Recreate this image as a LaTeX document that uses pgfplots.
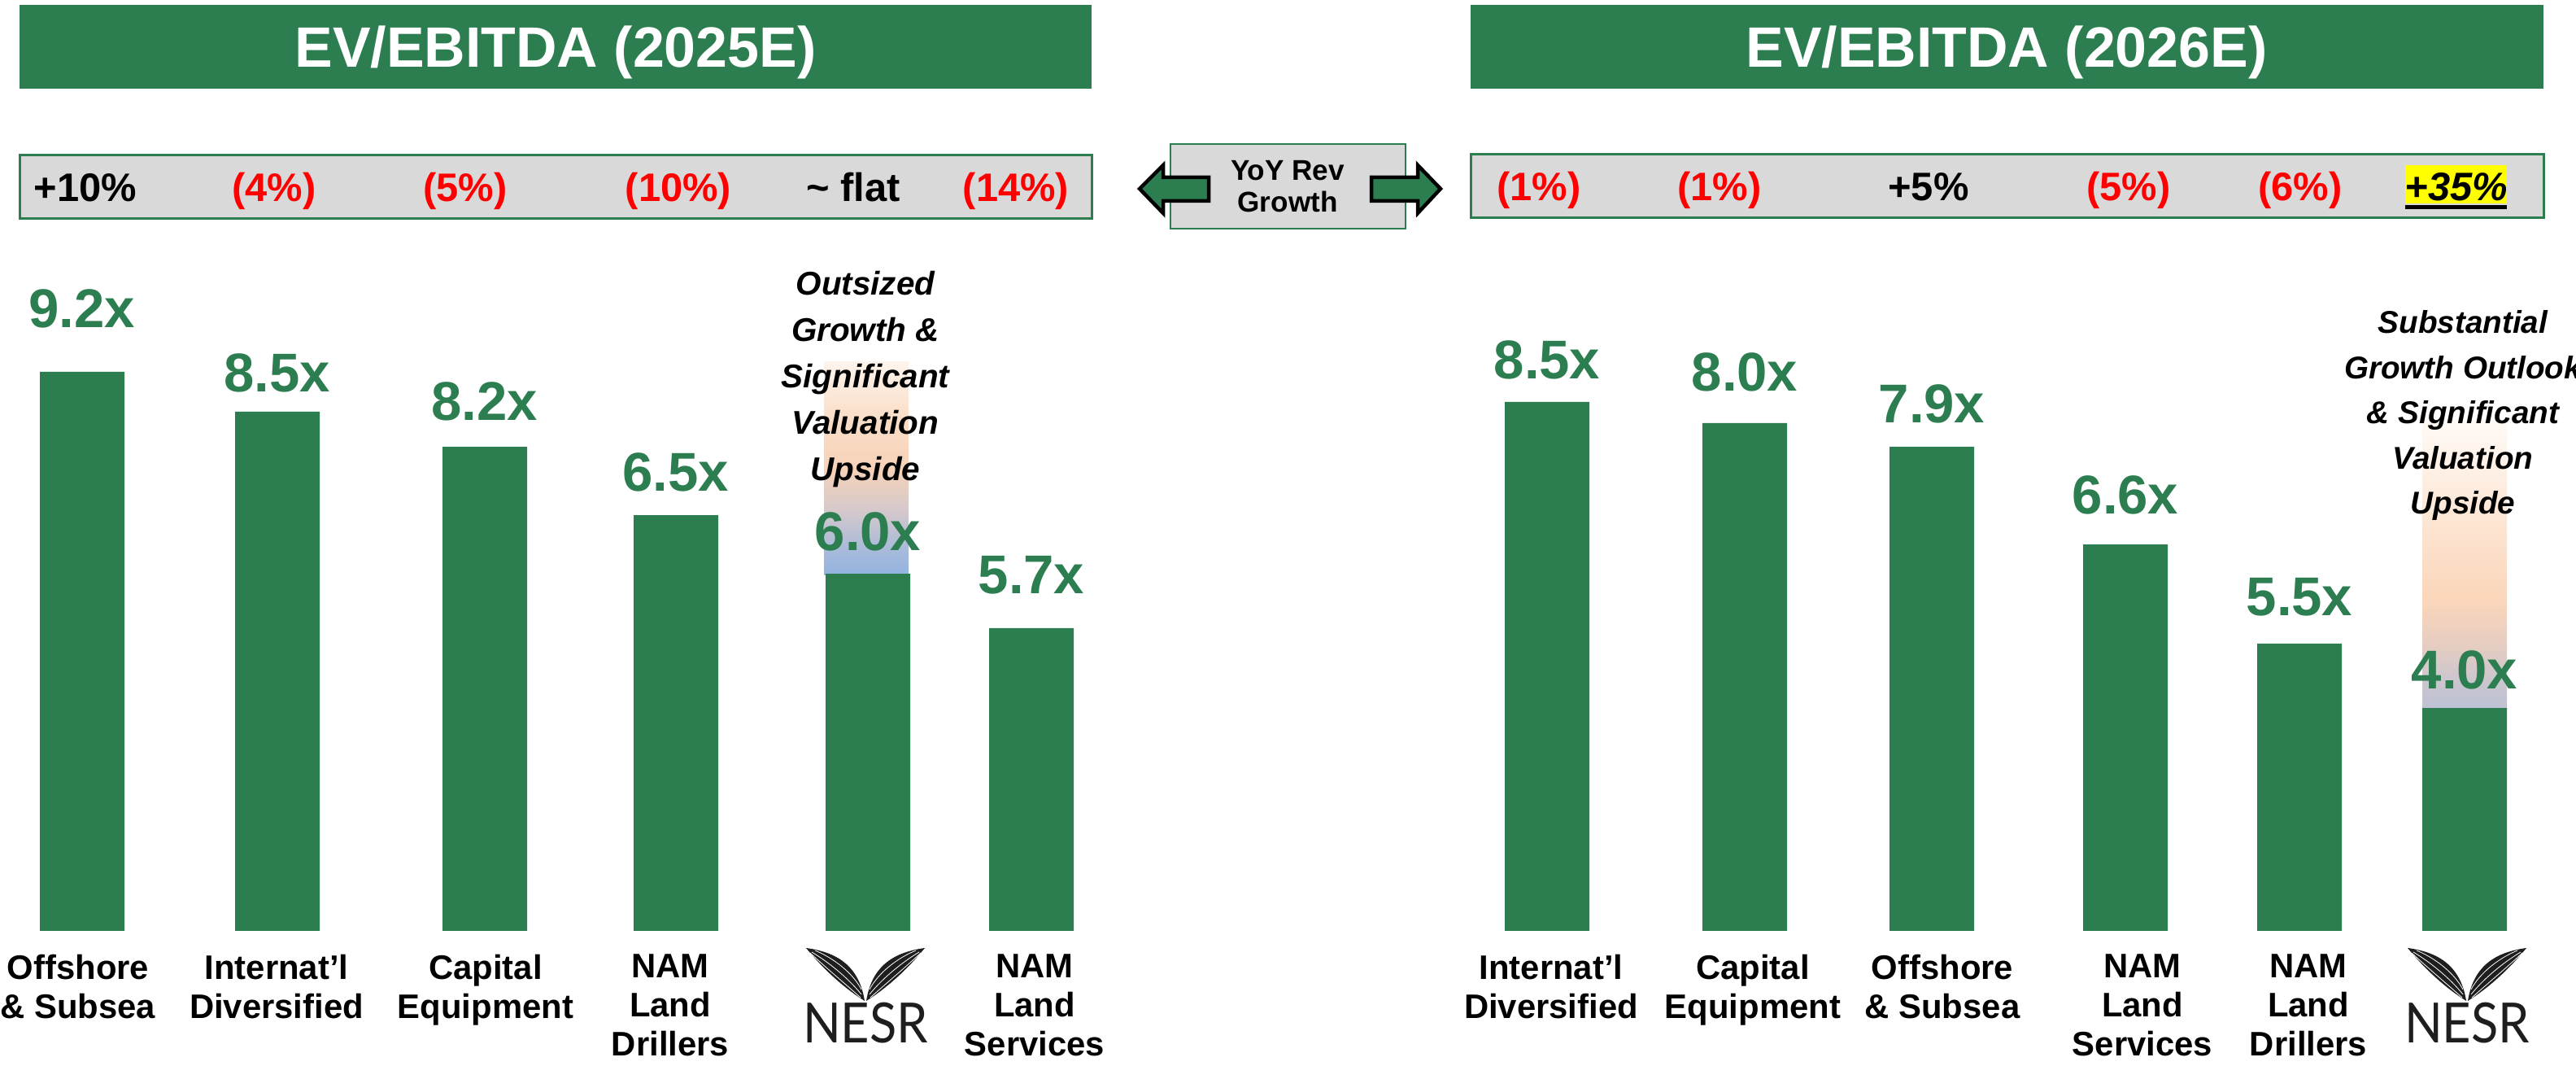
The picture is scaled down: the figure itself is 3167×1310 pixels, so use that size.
\documentclass[border=0pt]{standalone}
\usepackage{pgfplots}
\pgfplotsset{compat=1.18}
\usepackage{pgfplotstable}
\usepackage{fontspec}
\setmainfont{Liberation Sans}
\newfontfamily\logofont{Lato}
\definecolor{evgreen}{RGB}{44,126,80}
\definecolor{boxgrey}{RGB}{217,217,217}
\definecolor{upred}{RGB}{255,0,0}
\definecolor{logogrey}{RGB}{30,30,30}
\definecolor{hiyellow}{RGB}{255,255,0}

% TikZ maps the band 25bp..75bp of a vertical shading onto the shaded path
\pgfdeclareverticalshading{upleft}{100bp}{%
  color(0bp)=(rgb,255:red,146;green,180;blue,226);
  color(25bp)=(rgb,255:red,146;green,180;blue,226);
  color(31bp)=(rgb,255:red,168;green,186;blue,218);
  color(40bp)=(rgb,255:red,212;green,200;blue,204);
  color(50bp)=(rgb,255:red,246;green,210;blue,184);
  color(62bp)=(rgb,255:red,250;green,222;blue,200);
  color(75bp)=(rgb,255:red,254;green,244;blue,236);
  color(100bp)=(rgb,255:red,254;green,244;blue,236)}
\pgfdeclareverticalshading{upright}{100bp}{%
  color(0bp)=(rgb,255:red,188;green,193;blue,212);
  color(25bp)=(rgb,255:red,188;green,193;blue,212);
  color(30bp)=(rgb,255:red,204;green,198;blue,206);
  color(36bp)=(rgb,255:red,230;green,205;blue,193);
  color(44bp)=(rgb,255:red,251;green,214;blue,186);
  color(58bp)=(rgb,255:red,252;green,230;blue,212);
  color(75bp)=(rgb,255:red,255;green,250;blue,246);
  color(100bp)=(rgb,255:red,255;green,250;blue,246)}

\newcommand\hdrfont{\fontsize{19.9}{24}\selectfont\bfseries}
\newcommand\grfont{\fontsize{13.9}{16}\selectfont\bfseries}
\newcommand\barfont{\fontsize{19.1}{22}\selectfont\bfseries}
\newcommand\catfont{\fontsize{11.9}{13.7}\selectfont\bfseries}
\newcommand\notefont{\fontsize{11.5}{16.2}\selectfont\bfseries\itshape}
\newcommand\notefontb{\fontsize{11.0}{15.8}\selectfont\bfseries\itshape}
\newcommand\midfont{\fontsize{10}{11.1}\selectfont\bfseries}

% x = bar centre (px of the slide), h = drawn bar height, ly = label baseline, lab = label
\pgfplotstableread{
x    h     ly    lab
101  9.160 9.893 9.2x
341  8.507 8.827 8.5x
596  7.933 8.360 8.2x
831  6.813 7.213 6.5x
1067 5.853 6.227 6.0x
1268 4.960 5.520 5.7x
}\lefttab
\pgfplotstableread{
x    h     ly    lab
1902 8.667 9.053 8.5x
2145 8.320 8.840 8.0x
2375 7.933 8.320 7.9x
2613 6.333 6.827 6.6x
2827 4.707 5.160 5.5x
3030 3.653 3.960 4.0x
}\righttab

\pgfplotsset{panel/.style={
  scale only axis, height=114.4mm, ymin=0, ymax=15.2533,
  anchor=south west, clip=false, set layers,
  axis line style={draw=none}, tick style={draw=none}, ytick=\empty,
  xticklabel style={font=\catfont, align=center, anchor=north, inner sep=0pt, yshift=-2.8mm},
}}

\newcommand\nesrlogo[1]{%
  \begin{scope}[shift={(#1,82)}]
    \foreach \s in {1,-1} {
      \begin{scope}[xscale=\s]
        \fill[logogrey] (-1,-2) .. controls (-8,42) and (-36,58) .. (-73,63)
                        .. controls (-56,42) and (-30,16) .. (-1,-2) -- cycle;
        \draw[white, line width=0.08mm] (-5,6) .. controls (-22,27) and (-46,46) .. (-66,58);
        \draw[white, line width=0.08mm] (-5,12) .. controls (-16,33) and (-40,51) .. (-62,60);
        \draw[white, line width=0.08mm] (-6,2) .. controls (-26,20) and (-50,40) .. (-68,57);
      \end{scope}
    }
    \node[anchor=base, inner sep=0pt, text=logogrey, xscale=0.9,
          font=\logofont\fontsize{19.4}{20}\selectfont] at (0,-54) {NESR};
  \end{scope}}

\begin{document}
\begin{tikzpicture}[x=0.1mm, y=0.1mm]

% ---------- headers ----------
\fill[evgreen] (24,1201) rectangle (1342,1304);
\node[anchor=base, text=white, font=\hdrfont, inner sep=0pt] at (683,1227) {EV/EBITDA (2025E)};
\fill[evgreen] (1808,1201) rectangle (3127,1304);
\node[anchor=base, text=white, font=\hdrfont, inner sep=0pt] at (2467,1227) {EV/EBITDA (2026E)};

% ---------- growth rows ----------
\draw[evgreen, line width=0.3mm, fill=boxgrey] (24,1041) rectangle (1342,1119);
\draw[evgreen, line width=0.3mm, fill=boxgrey] (1808,1042) rectangle (3127,1120);
\begin{scope}[every node/.style={anchor=base, inner sep=0pt, font=\grfont}]
  \node at (105,1062) {+10\%};
  \node[text=upred] at (337,1062) {(4\%)};
  \node[text=upred] at (572,1062) {(5\%)};
  \node[text=upred] at (834,1062) {(10\%)};
  \node at (1049,1062) {\textasciitilde{} flat};
  \node[text=upred] at (1249,1062) {(14\%)};
  \node[text=upred] at (1892,1063) {(1\%)};
  \node[text=upred] at (2114,1063) {(1\%)};
  \node at (2371,1063) {+5\%};
  \node[text=upred] at (2617,1063) {(5\%)};
  \node[text=upred] at (2828,1063) {(6\%)};
\end{scope}
\fill[hiyellow] (2957,1060) rectangle (3082,1107);
\fill[black] (2957,1053) rectangle (3082,1058);
\node[anchor=base, inner sep=0pt, font=\grfont\itshape] at (3020,1063) {+35\%};

% ---------- middle box ----------
\draw[evgreen, line width=0.25mm, fill=boxgrey] (1439,1029) rectangle (1728,1133);
\node[anchor=base, inner sep=0pt, font=\midfont] at (1583,1088) {YoY Rev};
\node[anchor=base, inner sep=0pt, font=\midfont] at (1583,1049) {Growth};
\draw[black, line width=0.45mm, fill=evgreen, line join=miter]
  (1401,1078) -- (1430,1107) -- (1430,1092) -- (1486,1092) -- (1486,1063) -- (1430,1063) -- (1430,1048) -- cycle;
\draw[black, line width=0.45mm, fill=evgreen, line join=miter]
  (1771,1078) -- (1743,1107) -- (1743,1092) -- (1686,1092) -- (1686,1063) -- (1743,1063) -- (1743,1048) -- cycle;

% ---------- left panel ----------
\begin{axis}[panel, at={(0mm,16.6mm)}, width=158.3mm, xmin=0, xmax=1583,
  xtick={96,340,597,824,1065,1272},
  xticklabels={{Offshore\\\& Subsea},{Internat’l\\Diversified},{Capital\\Equipment},{NAM\\Land\\Drillers},{},{NAM\\Land\\Services}}]
  \begin{pgfonlayer}{axis background}
    \shade[shading=upleft] (axis cs:1013,5.827) rectangle (axis cs:1117,9.320);
  \end{pgfonlayer}
  \addplot[ybar, bar width=104, fill=evgreen, draw=none] table[x=x, y=h] {\lefttab};
  \addplot[draw=none, mark=none, nodes near coords, point meta=explicit symbolic,
    nodes near coords align={anchor=base},
    every node near coord/.append style={font=\barfont, text=evgreen, inner sep=0pt}]
    table[x=x, y=ly, meta=lab] {\lefttab};
\end{axis}

% ---------- right panel ----------
\begin{axis}[panel, at={(158.3mm,16.6mm)}, width=158.4mm, xmin=1583, xmax=3167,
  xtick={1907,2155,2388,2634,2838,3033},
  xticklabels={{Internat’l\\Diversified},{Capital\\Equipment},{Offshore\\\& Subsea},{NAM\\Land\\Services},{NAM\\Land\\Drillers},{}}]
  \begin{pgfonlayer}{axis background}
    \shade[shading=upright] (axis cs:2978,3.653) rectangle (axis cs:3082,8.360);
  \end{pgfonlayer}
  \addplot[ybar, bar width=104, fill=evgreen, draw=none] table[x=x, y=h] {\righttab};
  \addplot[draw=none, mark=none, nodes near coords, point meta=explicit symbolic,
    nodes near coords align={anchor=base},
    every node near coord/.append style={font=\barfont, text=evgreen, inner sep=0pt}]
    table[x=x, y=ly, meta=lab] {\righttab};
\end{axis}

% ---------- annotations ----------
\node[anchor=north, inner sep=0pt, align=center, font=\notefont] at (1064,977)
  {Outsized\\Growth \&\\Significant\\Valuation\\Upside};
\node[anchor=north, inner sep=0pt, align=center, font=\notefontb] at (3028,929)
  {Substantial\\Growth Outlook\\\& Significant\\Valuation\\Upside};

% ---------- NESR logos ----------
\nesrlogo{1064}
\nesrlogo{3033}

\pgfresetboundingbox
\path[use as bounding box] (0,0) rectangle (3167,1310);
\end{tikzpicture}
\end{document}
